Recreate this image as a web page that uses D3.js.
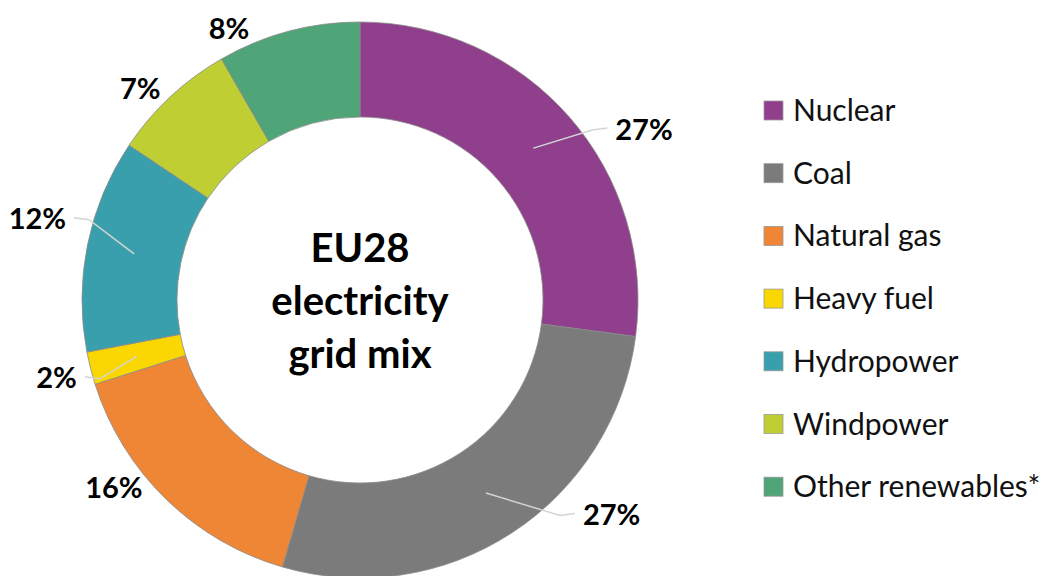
<!DOCTYPE html>
<html>
<head>
<meta charset="utf-8">
<script src="https://cdn.jsdelivr.net/npm/d3@7"></script>
<style>
  html, body { margin: 0; padding: 0; background: #ffffff; }
  svg { display: block; }
</style>
</head>
<body>
<svg id="chart" width="1053" height="576"></svg>
<script>
// ---- data ----
const categories = ["Nuclear", "Coal", "Natural gas", "Heavy fuel", "Hydropower", "Windpower", "Other renewables*"];
const shares = [27.1, 27.4, 15.6, 1.9, 12.4, 7.3, 8.3];
const colors = ["#8f3f8b", "#7b7b7b", "#ee8636", "#fad700", "#3a9fac", "#bfce33", "#4fa577"];
const centerLines = ["EU28", "electricity", "grid mix"];

// ---- layout (label placement, not data) ----
const labelAngle = [58.8, 130.3, 232.8, 255.8, 284.3, 314.1, 334.3];   // degrees clockwise from top
const labelRadius = [332, 330, 309, 313, 333, 306, 302];
const hasLeader = [true, true, false, true, true, false, false];

const W = 1053, H = 576;
const cx = 360, cy = 300;
const outerR = 278, innerR = 183;

const svg = d3.select("#chart");
const g = svg.append("g").attr("transform", `translate(${cx},${cy})`);

const total = d3.sum(shares);
const pie = d3.pie().value(d => d).sort(null);
const arcs = pie(shares);
const arc = d3.arc().innerRadius(innerR).outerRadius(outerR);

g.selectAll("path.slice")
  .data(arcs)
  .join("path")
  .attr("class", "slice")
  .attr("d", arc)
  .attr("fill", (d, i) => colors[i])
  .attr("stroke", "#8a8a8a")
  .attr("stroke-width", 0.8);

const fmt = v => Math.round(v / total * 100) + "%";

// labels
const labelFont = "Lato, 'Open Sans', sans-serif";
arcs.forEach((d, i) => {
  const a = labelAngle[i] * Math.PI / 180;
  const lx = Math.sin(a) * labelRadius[i];
  const ly = -Math.cos(a) * labelRadius[i];
  const txt = g.append("text")
    .attr("x", lx)
    .attr("y", ly)
    .attr("text-anchor", "middle")
    .attr("dominant-baseline", "central")
    .attr("font-family", labelFont)
    .attr("font-weight", "bold")
    .attr("font-size", 29)
    .attr("fill", "#000")
    .text(fmt(d.value));
  if (hasLeader[i]) {
    const bb = txt.node().getBBox();
    const c = arc.centroid(d);
    const right = lx > c[0];
    const endX = right ? bb.x - 8 : bb.x + bb.width + 8;
    const bendX = right ? endX - 15 : endX + 15;
    g.insert("path", "text")
      .attr("d", d3.line()([c, [bendX, ly + 2], [endX, ly]]))
      .attr("fill", "none")
      .attr("stroke", "#d4d4d4")
      .attr("stroke-width", 1.5);
  }
});

// center text
const ct = g.append("text")
  .attr("text-anchor", "middle")
  .attr("font-family", labelFont)
  .attr("font-weight", "bold")
  .attr("font-size", 40)
  .attr("fill", "#000");
centerLines.forEach((t, i) => {
  ct.append("tspan").attr("x", 0).attr("y", -38 + i * 53).text(t);
});

// legend
const legend = svg.append("g").attr("transform", "translate(764,101)");
const row = legend.selectAll("g.item")
  .data(categories)
  .join("g")
  .attr("class", "item")
  .attr("transform", (d, i) => `translate(0,${i * 62.7})`);
row.append("rect")
  .attr("width", 19).attr("height", 19)
  .attr("fill", (d, i) => colors[i])
  .attr("stroke", "#9a9a9a")
  .attr("stroke-width", 0.8);
row.append("text")
  .attr("x", 29)
  .attr("y", 20)
  .attr("font-family", labelFont)
  .attr("font-size", 30)
  .attr("fill", "#111")
  .text(d => d);
</script>
</body>
</html>
